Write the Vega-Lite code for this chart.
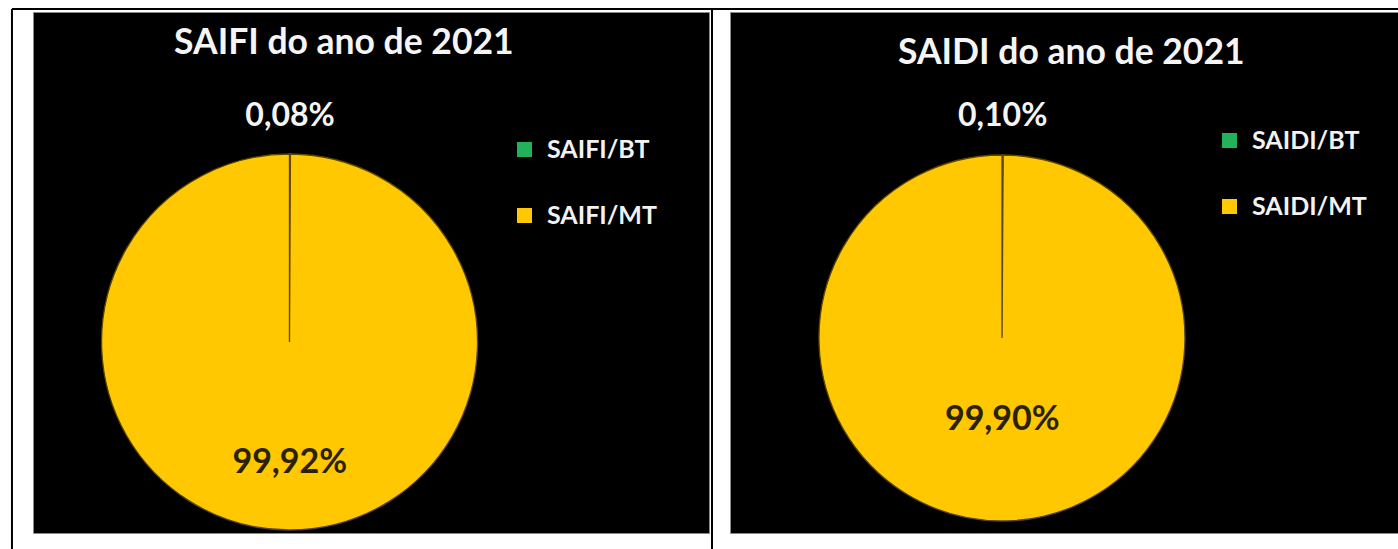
{
  "$schema": "https://vega.github.io/schema/vega-lite/v6.json",
  "background": "white",
  "padding": {"left": 10, "top": 7, "right": 0, "bottom": 0},
  "spacing": 21,
  "bounds": "flush",
  "config": {
    "view": {"fill": "black", "stroke": "#8a8a8a", "strokeWidth": 1},
    "font": "Lato"
  },
  "datasets": {
    "saifi": [
      {"cat": "SAIFI/BT", "pct": 0.08, "label": "0,08%"},
      {"cat": "SAIFI/MT", "pct": 99.92, "label": "99,92%"}
    ],
    "saidi": [
      {"cat": "SAIDI/BT", "pct": 0.10, "label": "0,10%"},
      {"cat": "SAIDI/MT", "pct": 99.90, "label": "99,90%"}
    ],
    "titles1": [{"title": "SAIFI do ano de 2021"}],
    "titles2": [{"title": "SAIDI do ano de 2021"}],
    "frame": [{"part": "border"}]
  },
  "resolve": {"scale": {"color": "independent", "theta": "independent"}, "legend": {"color": "independent"}},
  "hconcat": [
    {
      "width": 676,
      "height": 521,
      "data": {"name": "saifi"},
      "encoding": {
        "x": {"datum": 0.3794, "type": "quantitative", "scale": {"domain": [0, 1], "nice": false, "zero": false}, "axis": null},
        "y": {"datum": 0.6334, "type": "quantitative", "scale": {"domain": [0, 1], "nice": false, "zero": false, "reverse": true}, "axis": null}
      },
      "layer": [
        {
          "mark": {"type": "arc", "outerRadius": 188, "stroke": "#5c4600", "strokeWidth": 1.3},
          "encoding": {
            "theta": {"field": "pct", "type": "quantitative", "stack": true},
            "color": {
              "field": "cat", "type": "nominal",
              "scale": {"domain": ["SAIFI/BT", "SAIFI/MT"], "range": ["#22b35a", "#ffc800"]},
              "legend": {
                "title": null, "orient": "none", "legendX": 479, "legendY": 125,
                "symbolType": "square", "symbolSize": 225, "symbolStrokeWidth": 0,
                "labelFont": "Lato", "labelFontSize": 25, "labelFontWeight": "bold", "labelColor": "#f2f2f2",
                "labelOffset": 10, "rowPadding": 40, "padding": 0
              }
            }
          }
        },
        {
          "transform": [{"filter": "datum.cat == 'SAIFI/BT'"}],
          "mark": {"type": "text", "radius": 226, "font": "Lato", "fontSize": 32, "fontWeight": "bold", "color": "#f5f5f5", "align": "center", "baseline": "middle"},
          "encoding": {
            "theta": {"field": "pct", "type": "quantitative", "stack": true},
            "text": {"field": "label", "type": "nominal"}
          }
        },
        {
          "transform": [{"filter": "datum.cat == 'SAIFI/MT'"}],
          "mark": {"type": "text", "radius": 121, "font": "Lato", "fontSize": 34, "fontWeight": "bold", "color": "#2a2200", "align": "center", "baseline": "middle"},
          "encoding": {
            "theta": {"field": "pct", "type": "quantitative", "stack": true},
            "text": {"field": "label", "type": "nominal"}
          }
        },
        {
          "data": {"name": "titles1"},
          "mark": {"type": "text", "font": "Lato", "fontSize": 35.5, "fontWeight": "bold", "color": "#f5f5f5", "align": "left", "baseline": "alphabetic"},
          "encoding": {
            "x": {"datum": 0.2086, "type": "quantitative"},
            "y": {"datum": 0.0806, "type": "quantitative"},
            "text": {"field": "title", "type": "nominal"}
          }
        },
        {
          "data": {"name": "frame"},
          "mark": {"type": "rule", "color": "black", "strokeWidth": 2},
          "encoding": {
            "x": {"datum": -0.0311, "type": "quantitative"},
            "y": {"datum": -0.00576, "type": "quantitative"},
            "y2": {"datum": 1.0326}
          }
        },
        {
          "data": {"name": "frame"},
          "mark": {"type": "rule", "color": "black", "strokeWidth": 2},
          "encoding": {
            "x": {"datum": 1.00444, "type": "quantitative"},
            "y": {"datum": -0.00576, "type": "quantitative"},
            "y2": {"datum": 1.0326}
          }
        },
        {
          "data": {"name": "frame"},
          "mark": {"type": "rule", "color": "black", "strokeWidth": 2},
          "encoding": {
            "y": {"datum": -0.00576, "type": "quantitative"},
            "x": {"datum": -0.0311, "type": "quantitative"},
            "x2": {"datum": 1.00444}
          }
        }
      ]
    },
    {
      "width": 669,
      "height": 521,
      "data": {"name": "saidi"},
      "encoding": {
        "x": {"datum": 0.4066, "type": "quantitative", "scale": {"domain": [0, 1], "nice": false, "zero": false}, "axis": null},
        "y": {"datum": 0.6257, "type": "quantitative", "scale": {"domain": [0, 1], "nice": false, "zero": false, "reverse": true}, "axis": null}
      },
      "layer": [
        {
          "mark": {"type": "arc", "outerRadius": 183, "stroke": "#5c4600", "strokeWidth": 1.3},
          "encoding": {
            "theta": {"field": "pct", "type": "quantitative", "stack": true},
            "color": {
              "field": "cat", "type": "nominal",
              "scale": {"domain": ["SAIDI/BT", "SAIDI/MT"], "range": ["#22b35a", "#ffc800"]},
              "legend": {
                "title": null, "orient": "none", "legendX": 487, "legendY": 116,
                "symbolType": "square", "symbolSize": 225, "symbolStrokeWidth": 0,
                "labelFont": "Lato", "labelFontSize": 25, "labelFontWeight": "bold", "labelColor": "#f2f2f2",
                "labelOffset": 10, "rowPadding": 40, "padding": 0
              }
            }
          }
        },
        {
          "transform": [{"filter": "datum.cat == 'SAIDI/BT'"}],
          "mark": {"type": "text", "radius": 222, "font": "Lato", "fontSize": 32, "fontWeight": "bold", "color": "#f5f5f5", "align": "center", "baseline": "middle"},
          "encoding": {
            "theta": {"field": "pct", "type": "quantitative", "stack": true},
            "text": {"field": "label", "type": "nominal"}
          }
        },
        {
          "transform": [{"filter": "datum.cat == 'SAIDI/MT'"}],
          "mark": {"type": "text", "radius": 82, "font": "Lato", "fontSize": 34, "fontWeight": "bold", "color": "#2a2200", "align": "center", "baseline": "middle"},
          "encoding": {
            "theta": {"field": "pct", "type": "quantitative", "stack": true},
            "text": {"field": "label", "type": "nominal"}
          }
        },
        {
          "data": {"name": "titles2"},
          "mark": {"type": "text", "font": "Lato", "fontSize": 35.5, "fontWeight": "bold", "color": "#f5f5f5", "align": "left", "baseline": "alphabetic"},
          "encoding": {
            "x": {"datum": 0.2511, "type": "quantitative"},
            "y": {"datum": 0.0998, "type": "quantitative"},
            "text": {"field": "title", "type": "nominal"}
          }
        },
        {
          "data": {"name": "frame"},
          "mark": {"type": "rule", "color": "black", "strokeWidth": 2},
          "encoding": {
            "y": {"datum": -0.00576, "type": "quantitative"},
            "x": {"datum": -0.0269, "type": "quantitative"},
            "x2": {"datum": 1.0}
          }
        }
      ]
    }
  ]
}
